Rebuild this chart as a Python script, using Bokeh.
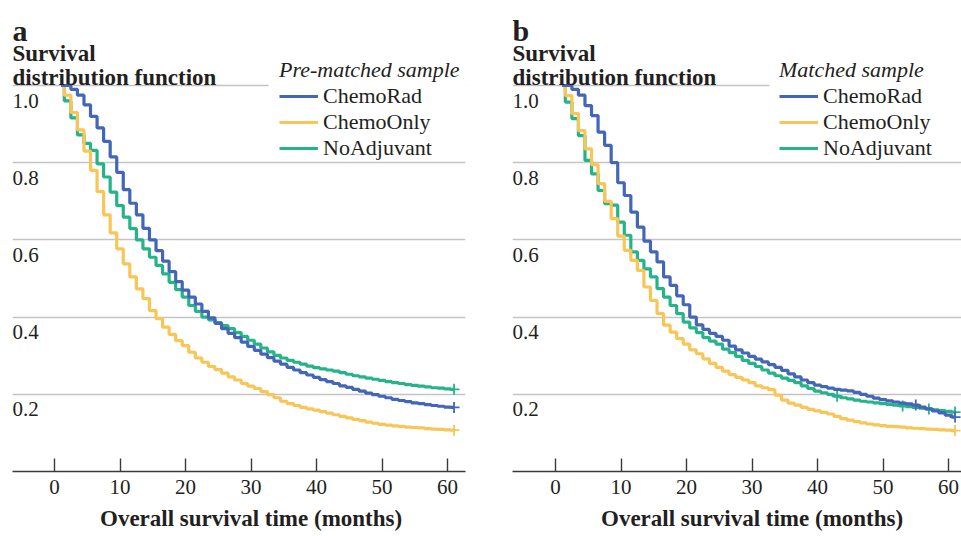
from bokeh.plotting import figure
from bokeh.layouts import row
from bokeh.models import Legend, LegendItem, Label, BoxAnnotation, Grid, FixedTicker, Title
from bokeh.core.properties import value
from bokeh.embed import file_html
from bokeh.resources import INLINE

# ---------------- data ----------------
months = list(range(1, 62))

a_chemorad = [
    1.0, 1.0, 0.99, 0.975, 0.95, 0.92, 0.89, 0.855, 0.815, 0.775,
    0.73, 0.695, 0.665, 0.63, 0.600, 0.572, 0.545, 0.518, 0.492, 0.47,
    0.452, 0.434, 0.415, 0.398, 0.384, 0.37, 0.358, 0.347, 0.335, 0.324,
    0.314, 0.304, 0.295, 0.286, 0.278, 0.27, 0.263, 0.256, 0.25, 0.244,
    0.238, 0.233, 0.228, 0.222, 0.218, 0.213, 0.208, 0.203, 0.199, 0.195,
    0.191, 0.187, 0.184, 0.181, 0.178, 0.176, 0.173, 0.171, 0.169, 0.167,
    0.166]
a_chemoonly = [
    1.0, 0.975, 0.93, 0.885, 0.83, 0.78, 0.725, 0.665, 0.618, 0.577,
    0.538, 0.504, 0.473, 0.448, 0.417, 0.396, 0.374, 0.355, 0.339, 0.326,
    0.309, 0.294, 0.283, 0.272, 0.264, 0.255, 0.245, 0.237, 0.228, 0.221,
    0.215, 0.207, 0.199, 0.191, 0.182, 0.176, 0.171, 0.166, 0.162, 0.159,
    0.155, 0.151, 0.147, 0.143, 0.139, 0.135, 0.132, 0.128, 0.125, 0.122,
    0.12, 0.118, 0.117, 0.115, 0.114, 0.113, 0.111, 0.11, 0.109, 0.108,
    0.107]
a_noadjuvant = [
    1.0, 0.96, 0.916, 0.872, 0.85, 0.832, 0.797, 0.763, 0.724, 0.689,
    0.659, 0.629, 0.60, 0.577, 0.555, 0.534, 0.512, 0.49, 0.471, 0.452,
    0.43, 0.415, 0.40, 0.393, 0.386, 0.378, 0.37, 0.36, 0.35, 0.34,
    0.33, 0.32, 0.31, 0.301, 0.294, 0.288, 0.283, 0.278, 0.273, 0.269,
    0.266, 0.263, 0.26, 0.256, 0.252, 0.248, 0.245, 0.242, 0.239, 0.236,
    0.233, 0.23, 0.228, 0.225, 0.223, 0.221, 0.219, 0.217, 0.216, 0.214,
    0.213]

b_chemorad = [
    1.0, 1.0, 0.99, 0.975, 0.948, 0.922, 0.879, 0.845, 0.80, 0.748,
    0.715, 0.672, 0.633, 0.597, 0.569, 0.543, 0.504, 0.482, 0.455, 0.432,
    0.40, 0.38, 0.368, 0.358, 0.35, 0.34, 0.325, 0.315, 0.307, 0.298,
    0.291, 0.284, 0.277, 0.27, 0.262, 0.253, 0.245, 0.237, 0.23, 0.224,
    0.22, 0.216, 0.213, 0.211, 0.209, 0.205, 0.2, 0.195, 0.19, 0.186,
    0.183, 0.18, 0.177, 0.175, 0.172, 0.167, 0.162, 0.157, 0.152, 0.146,
    0.141]
b_chemoonly = [
    1.0, 0.974, 0.927, 0.883, 0.836, 0.795, 0.746, 0.70, 0.655, 0.61,
    0.573, 0.547, 0.521, 0.478, 0.443, 0.409, 0.379, 0.361, 0.344, 0.33,
    0.315, 0.305, 0.292, 0.28, 0.27, 0.26, 0.251, 0.244, 0.237, 0.23,
    0.222, 0.217, 0.212, 0.198, 0.185, 0.177, 0.172, 0.166, 0.161, 0.157,
    0.153, 0.149, 0.143, 0.137, 0.133, 0.129, 0.126, 0.123, 0.121, 0.119,
    0.117, 0.116, 0.115, 0.113, 0.112, 0.111, 0.11, 0.109, 0.108, 0.107,
    0.106]
b_noadjuvant = [
    1.0, 0.957, 0.914, 0.87, 0.806, 0.771, 0.728, 0.694, 0.69, 0.646,
    0.612, 0.569, 0.547, 0.525, 0.504, 0.474, 0.452, 0.43, 0.409, 0.387,
    0.372, 0.36, 0.347, 0.338, 0.33, 0.317, 0.308, 0.298, 0.288, 0.28,
    0.272, 0.263, 0.255, 0.248, 0.242, 0.236, 0.23, 0.222, 0.215, 0.208,
    0.204, 0.2, 0.195, 0.191, 0.188, 0.185, 0.182, 0.18, 0.178, 0.176,
    0.174, 0.172, 0.17, 0.168, 0.166, 0.164, 0.162, 0.16, 0.158, 0.156,
    0.154]

# censored-observation markers (months)
a_censor_chemorad = [61]
a_censor_chemoonly = [61]
a_censor_noadjuvant = [61]
b_censor_chemorad = [55, 61]
b_censor_chemoonly = [61]
b_censor_noadjuvant = [43, 53, 57, 61]

series_names = ["ChemoRad", "ChemoOnly", "NoAdjuvant"]
x_ticks = [0, 10, 20, 30, 40, 50, 60]
y_ticks = [0.2, 0.4, 0.6, 0.8, 1.0]
y_tick_labels = ["0.2", "0.4", "0.6", "0.8", "1.0"]
panel_letters = ["a", "b"]
legend_titles = ["Pre-matched sample", "Matched sample"]
y_title = ["Survival", "distribution function"]
x_title = "Overall survival time (months)"

# ---------------- styling / layout ----------------
COLORS = {"ChemoRad": "#4366b6", "ChemoOnly": "#f7c656", "NoAdjuvant": "#25b489"}
DRAW_ORDER = ["NoAdjuvant", "ChemoOnly", "ChemoRad"]
TEXT = "#231f20"
SERIF = "Liberation Serif"
FIG_H = 536
PX_X = 6.55          # pixels per month
PX_Y = 386.0         # pixels per unit survival
AXIS_Y = 471         # canvas y of the x axis
MB_BOTTOM = FIG_H - AXIS_Y
Y_END = AXIS_Y / PX_Y
FRAME_LEFT = 12
X_TITLE_W = 302      # approx rendered width of the x title (px)


def yp(canvas_y):
    """canvas y (from top) -> data units"""
    return (AXIS_Y - canvas_y) / PX_Y


def make_panel(idx, width, frame_w, x_start, curves, censors):
    x_end = x_start + frame_w / PX_X
    p = figure(width=width, height=FIG_H, x_range=(x_start, x_end), y_range=(0, Y_END),
               output_backend="svg", toolbar_location=None, y_axis_location=None,
               min_border_left=FRAME_LEFT, min_border_right=width - FRAME_LEFT - frame_w,
               min_border_top=0, min_border_bottom=MB_BOTTOM)
    p.outline_line_color = None
    p.background_fill_color = "white"
    p.border_fill_color = "white"
    # drop default grids, add the horizontal reference lines only
    p.center = [r for r in p.center if not isinstance(r, Grid)]
    p.add_layout(Grid(dimension=1, ticker=FixedTicker(ticks=y_ticks),
                      grid_line_color="#c4c4c4", grid_line_width=1.5))

    ax = p.xaxis[0]
    ax.ticker = FixedTicker(ticks=x_ticks)
    ax.axis_line_color = "#3a3a3a"
    ax.axis_line_width = 1.6
    ax.major_tick_line_color = "#3a3a3a"
    ax.major_tick_line_width = 1.4
    ax.major_tick_in = 13
    ax.major_tick_out = 0
    ax.minor_tick_line_color = None
    ax.major_label_text_font = SERIF
    ax.major_label_text_font_size = "21px"
    ax.major_label_text_color = TEXT
    ax.major_label_standoff = 8
    # tiny blank axis label used only as vertical spacing above the x title
    ax.axis_label = " "
    ax.axis_label_text_font_size = "2px"
    ax.axis_label_standoff = 4

    # y tick labels sitting under each gridline at the left edge
    p.text(x=[x_start] * len(y_ticks), y=y_ticks, text=y_tick_labels,
           text_font=value(SERIF), text_font_size=value("21px"), text_color=TEXT,
           text_baseline="alphabetic", text_align="left", x_offset=0, y_offset=15)

    renderers = {}
    for name in DRAW_ORDER:
        vals = curves[name]
        r = p.step(x=months, y=vals, mode="center", line_width=3.2, color=COLORS[name])
        renderers[name] = r
        cx = censors[name]
        cy = [vals[months.index(t)] for t in cx]
        p.scatter(x=cx, y=cy, marker="cross", size=11, line_width=1.8, color=COLORS[name])

    # hide the 1.0 gridline behind the legend
    p.add_layout(BoxAnnotation(left=(268 - 54) / PX_X, bottom=0.98, top=1.02,
                               fill_color="white", fill_alpha=1, line_color=None))

    legend = Legend(items=[LegendItem(label=n, renderers=[renderers[n]]) for n in series_names],
                    location=(267, 310), title=legend_titles[idx],
                    title_text_font=SERIF, title_text_font_size="22px",
                    title_text_font_style="italic", title_text_color=TEXT, title_standoff=0,
                    label_text_font=SERIF, label_text_font_size="22px", label_text_color=TEXT,
                    glyph_width=39, glyph_height=20, label_standoff=5, label_height=20,
                    spacing=-3, padding=0, margin=0, border_line_color=None,
                    background_fill_alpha=0)
    p.add_layout(legend)

    # panel letter and y title above the plot
    for txt, cy, fs in [(panel_letters[idx], 30, "30px"), (y_title[0], 53, "23px"),
                        (y_title[1], 77, "23px")]:
        p.add_layout(Label(x=x_start, y=yp(cy), text=txt, text_font=SERIF,
                           text_font_size=fs, text_font_style="bold", text_color=TEXT,
                           text_baseline="alphabetic"))
    # x title, centred on the tick range
    mid_px = ((x_ticks[0] + x_ticks[-1]) / 2 - x_start) * PX_X
    p.add_layout(Title(text=x_title, align="left", offset=mid_px - X_TITLE_W / 2,
                       vertical_align="top", standoff=0,
                       text_font=SERIF, text_font_size="23px", text_font_style="bold",
                       text_color=TEXT), "below")
    return p


curves_a = {"ChemoRad": a_chemorad, "ChemoOnly": a_chemoonly, "NoAdjuvant": a_noadjuvant}
curves_b = {"ChemoRad": b_chemorad, "ChemoOnly": b_chemoonly, "NoAdjuvant": b_noadjuvant}
cens_a = {"ChemoRad": a_censor_chemorad, "ChemoOnly": a_censor_chemoonly, "NoAdjuvant": a_censor_noadjuvant}
cens_b = {"ChemoRad": b_censor_chemorad, "ChemoOnly": b_censor_chemoonly, "NoAdjuvant": b_censor_noadjuvant}

pa = make_panel(0, 500, 453, -42 / PX_X, curves_a, cens_a)
pb = make_panel(1, 461, 449, -43 / PX_X, curves_b, cens_b)

layout = row(pa, pb)
open("out.html", "w").write(file_html(layout, INLINE))
